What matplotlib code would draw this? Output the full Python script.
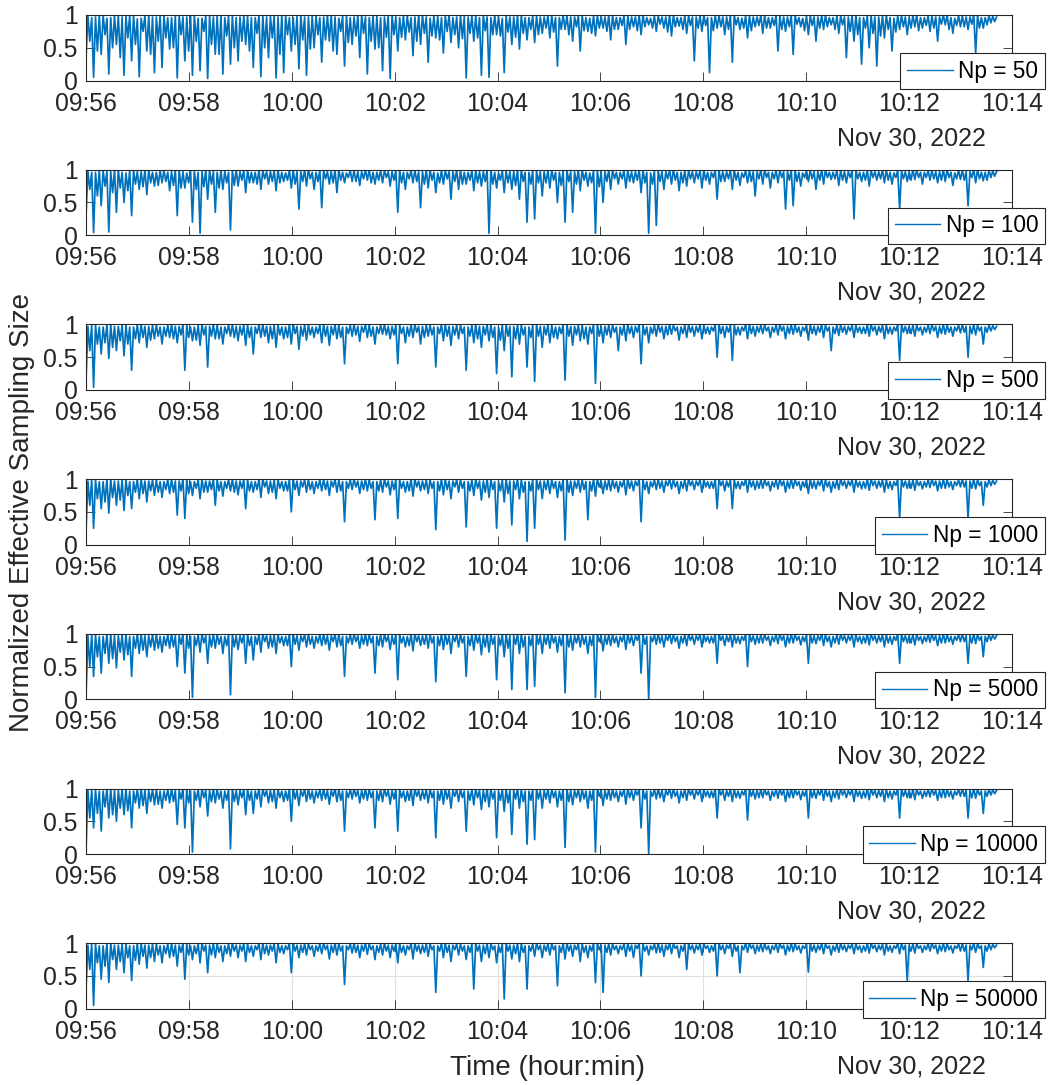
import numpy as np
import pandas as pd
import matplotlib
matplotlib.use("Agg")
import matplotlib.pyplot as plt
import matplotlib.dates as mdates

plt.rcParams["font.family"] = ["Liberation Sans", "DejaVu Sans"]

# --- Data (normalized ESS in percent) ------------------------------------
NP_VALUES = [50, 100, 500, 1000, 5000, 10000, 50000]
T_START = "2022-11-30 09:56:00"
T_END = "2022-11-30 10:13:42"

ess_np50 = [
    35, 99, 60, 96, 5, 97, 45, 100, 40, 100, 70, 95, 10, 96, 50, 99, 55, 99, 35, 97, 8, 98, 65, 100, 30, 100, 55, 94, 6, 95, 75, 99, 45, 99, 40, 97, 12, 97, 60, 100,
    20, 100, 65, 96, 48, 96, 50, 99, 4, 99, 70, 97, 30, 97, 45, 100, 8, 100, 60, 95, 15, 95, 75, 99, 3, 98, 55, 97, 40, 99, 40, 100, 10, 96, 68, 98, 25, 100, 50, 96,
    30, 97, 60, 99, 55, 99, 45, 96, 20, 96, 72, 100, 6, 100, 50, 97, 35, 98, 65, 99, 4, 97, 40, 100, 12, 99, 70, 96, 45, 96, 55, 98, 18, 100, 62, 97, 8, 97, 48, 99,
    50, 99, 70, 96, 28, 97, 62, 100, 60, 100, 45, 97, 40, 95, 75, 99, 22, 99, 58, 96, 55, 97, 68, 100, 35, 100, 72, 97, 10, 96, 60, 99, 48, 99, 50, 96, 15, 97, 66, 100,
    3, 100, 70, 97, 45, 96, 66, 99, 62, 99, 74, 96, 38, 97, 60, 100, 55, 100, 72, 97, 28, 95, 68, 99, 65, 98, 62, 96, 42, 99, 75, 100, 58, 96, 70, 97, 50, 100, 64, 98,
    4, 97, 72, 99, 60, 99, 65, 96, 8, 100, 76, 97, 5, 96, 70, 100, 70, 98, 68, 95, 12, 99, 74, 97, 55, 97, 66, 100, 48, 100, 72, 96, 62, 96, 78, 99, 58, 99, 70, 97,
    72, 97, 80, 99, 65, 100, 74, 96, 22, 96, 78, 100, 78, 99, 70, 97, 60, 97, 82, 99, 45, 100, 76, 96, 75, 95, 72, 99, 68, 99, 80, 97, 80, 97, 75, 100, 62, 100, 78, 96,
    78, 96, 84, 99, 55, 99, 78, 97, 82, 97, 76, 100, 70, 100, 82, 96, 85, 95, 80, 99, 75, 99, 86, 97, 80, 97, 74, 100, 68, 100, 82, 96, 83, 96, 78, 99, 72, 99, 84, 97,
    30, 97, 80, 99, 75, 100, 84, 96, 12, 96, 76, 99, 80, 99, 82, 97, 70, 97, 78, 100, 28, 100, 85, 96, 78, 95, 80, 99, 65, 99, 76, 97, 82, 97, 84, 100, 72, 100, 80, 96,
    80, 96, 84, 99, 45, 99, 78, 97, 75, 97, 82, 100, 40, 100, 86, 96, 82, 95, 76, 99, 70, 99, 84, 97, 60, 97, 80, 100, 78, 100, 82, 96, 85, 96, 78, 99, 72, 99, 85, 97,
    35, 97, 75, 99, 60, 100, 70, 96, 25, 96, 80, 99, 50, 99, 72, 97, 22, 97, 68, 100, 65, 100, 78, 96, 45, 95, 74, 99, 78, 99, 82, 97, 70, 97, 80, 100, 82, 100, 76, 96,
    80, 96, 84, 99, 75, 99, 80, 97, 60, 97, 86, 100, 85, 100, 78, 96, 72, 95, 84, 99, 82, 99, 82, 97, 78, 97, 86, 100, 42, 100, 80, 96, 80, 96, 85, 99, 88, 98, 90, 97,
]
ess_np100 = [
    30, 98, 70, 96, 4, 96, 60, 99, 45, 99, 75, 97, 5, 97, 65, 100, 35, 100, 72, 96, 50, 95, 68, 99, 30, 99, 78, 97, 70, 97, 74, 100, 62, 100, 80, 96, 75, 96, 76, 99,
    80, 99, 82, 96, 68, 97, 76, 100, 30, 100, 72, 97, 72, 95, 80, 99, 20, 99, 70, 96, 3, 97, 74, 100, 55, 100, 78, 97, 35, 96, 72, 99, 70, 98, 80, 96, 8, 99, 76, 100,
    75, 97, 84, 99, 65, 100, 80, 96, 80, 96, 78, 100, 70, 99, 86, 97, 78, 97, 82, 99, 68, 100, 80, 96, 82, 95, 84, 99, 72, 99, 78, 97, 40, 97, 82, 100, 75, 100, 86, 96,
    70, 96, 82, 99, 42, 99, 86, 97, 78, 97, 80, 100, 65, 100, 84, 96, 80, 95, 88, 99, 82, 99, 82, 97, 76, 97, 86, 100, 84, 100, 80, 96, 78, 96, 84, 99, 80, 99, 88, 97,
    75, 97, 84, 99, 35, 100, 80, 96, 70, 96, 86, 99, 80, 99, 82, 97, 42, 97, 78, 100, 72, 100, 84, 96, 65, 95, 80, 99, 78, 99, 86, 97, 55, 97, 82, 100, 70, 100, 78, 96,
    78, 96, 84, 99, 68, 99, 80, 97, 75, 97, 82, 100, 3, 100, 78, 96, 72, 95, 84, 99, 65, 99, 80, 97, 70, 97, 76, 100, 55, 100, 82, 96, 20, 96, 78, 99, 25, 99, 80, 97,
    60, 97, 80, 99, 72, 100, 84, 96, 50, 96, 76, 99, 20, 99, 82, 97, 35, 97, 78, 100, 68, 100, 84, 96, 75, 95, 80, 99, 3, 99, 74, 97, 50, 97, 82, 100, 70, 100, 86, 96,
    78, 96, 86, 99, 72, 99, 82, 97, 80, 97, 84, 100, 65, 100, 80, 96, 3, 95, 78, 99, 15, 99, 82, 97, 70, 97, 86, 100, 78, 100, 84, 96, 68, 96, 80, 99, 75, 99, 86, 97,
    80, 97, 86, 99, 72, 100, 84, 96, 78, 96, 88, 99, 55, 99, 82, 97, 82, 97, 86, 100, 70, 100, 84, 96, 76, 95, 88, 99, 80, 99, 82, 97, 60, 97, 86, 100, 78, 100, 88, 96,
    72, 96, 86, 99, 80, 99, 88, 97, 40, 97, 84, 100, 45, 100, 82, 96, 75, 95, 88, 99, 82, 99, 86, 97, 70, 97, 84, 100, 78, 100, 88, 96, 85, 96, 86, 99, 76, 99, 84, 97,
    80, 97, 88, 99, 25, 100, 86, 96, 82, 96, 84, 99, 75, 99, 88, 97, 84, 97, 86, 100, 80, 100, 84, 96, 78, 95, 88, 99, 40, 99, 86, 97, 82, 97, 84, 100, 85, 100, 88, 96,
    78, 96, 88, 99, 84, 99, 86, 97, 80, 97, 84, 100, 82, 100, 88, 96, 76, 95, 86, 99, 85, 99, 84, 97, 45, 97, 88, 100, 80, 100, 86, 96, 83, 96, 84, 99, 88, 98, 90, 97,
]
ess_np500 = [
    15, 97, 60, 99, 4, 99, 70, 96, 55, 96, 72, 100, 48, 100, 65, 97, 60, 97, 75, 99, 52, 99, 70, 96, 30, 96, 78, 100, 72, 100, 80, 97, 65, 97, 76, 99, 78, 99, 82, 96,
    70, 96, 82, 99, 80, 100, 78, 97, 72, 97, 84, 100, 30, 99, 80, 96, 75, 96, 76, 99, 68, 100, 84, 97, 35, 97, 82, 100, 78, 99, 78, 96, 70, 96, 86, 99, 82, 100, 80, 97,
    75, 97, 84, 99, 68, 99, 80, 96, 55, 96, 86, 100, 80, 100, 82, 97, 72, 97, 78, 99, 65, 99, 84, 96, 78, 96, 80, 100, 70, 100, 86, 97, 62, 97, 82, 99, 76, 99, 84, 96,
    80, 96, 86, 99, 72, 100, 82, 97, 68, 97, 84, 100, 78, 99, 80, 96, 40, 96, 86, 99, 82, 100, 84, 97, 74, 97, 88, 100, 80, 99, 82, 96, 70, 96, 86, 99, 85, 100, 84, 97,
    78, 97, 84, 99, 40, 99, 86, 96, 72, 96, 82, 100, 80, 100, 88, 97, 70, 97, 80, 99, 82, 99, 84, 96, 35, 96, 86, 100, 75, 100, 82, 97, 68, 97, 84, 99, 78, 99, 86, 96,
    30, 96, 82, 99, 72, 100, 78, 97, 65, 97, 84, 100, 75, 99, 80, 96, 25, 96, 76, 99, 60, 100, 82, 97, 20, 97, 78, 100, 70, 99, 84, 96, 35, 96, 80, 99, 13, 100, 82, 97,
    65, 97, 84, 99, 72, 99, 80, 96, 78, 96, 86, 100, 15, 100, 82, 97, 68, 97, 84, 99, 75, 99, 78, 96, 70, 96, 86, 100, 10, 100, 82, 97, 72, 97, 84, 99, 80, 99, 88, 96,
    60, 96, 84, 99, 75, 100, 86, 97, 80, 97, 88, 100, 40, 99, 84, 96, 72, 96, 86, 99, 82, 100, 88, 97, 78, 97, 84, 100, 85, 99, 90, 96, 76, 96, 86, 99, 80, 100, 88, 97,
    82, 97, 88, 99, 78, 99, 86, 96, 85, 96, 90, 100, 50, 100, 86, 97, 80, 97, 88, 99, 45, 99, 84, 96, 84, 96, 90, 100, 78, 100, 86, 97, 82, 97, 88, 99, 86, 99, 90, 96,
    80, 96, 88, 99, 84, 100, 90, 97, 78, 97, 86, 100, 85, 99, 88, 96, 82, 96, 90, 99, 76, 100, 86, 97, 84, 97, 88, 100, 80, 99, 90, 96, 60, 96, 86, 99, 83, 100, 88, 97,
    85, 97, 90, 99, 80, 99, 88, 96, 86, 96, 86, 100, 82, 100, 90, 97, 84, 97, 88, 99, 78, 99, 86, 96, 85, 96, 90, 100, 45, 100, 88, 97, 86, 97, 86, 99, 82, 99, 90, 96,
    84, 96, 88, 99, 86, 100, 90, 97, 80, 97, 86, 100, 85, 99, 88, 96, 82, 96, 90, 99, 87, 100, 88, 97, 50, 97, 86, 100, 84, 99, 90, 96, 70, 96, 88, 99, 90, 98, 92, 97,
]
ess_np1000 = [
    20, 97, 60, 99, 25, 99, 70, 96, 55, 96, 65, 100, 48, 100, 72, 97, 60, 97, 68, 99, 52, 99, 75, 96, 55, 96, 80, 100, 70, 100, 78, 97, 65, 97, 82, 99, 75, 99, 80, 96,
    72, 96, 84, 99, 78, 100, 80, 97, 45, 97, 82, 100, 40, 99, 78, 96, 75, 96, 86, 99, 70, 100, 80, 97, 80, 97, 84, 100, 60, 99, 82, 96, 74, 96, 86, 99, 82, 100, 80, 97,
    76, 97, 86, 99, 55, 99, 82, 96, 80, 96, 84, 100, 72, 100, 88, 97, 78, 97, 80, 99, 70, 99, 86, 96, 82, 96, 82, 100, 50, 100, 84, 97, 75, 97, 88, 99, 80, 99, 84, 96,
    78, 96, 86, 99, 82, 100, 84, 97, 75, 97, 88, 100, 80, 99, 82, 96, 35, 96, 86, 99, 84, 100, 88, 97, 78, 97, 84, 100, 82, 99, 86, 96, 38, 96, 82, 99, 80, 100, 88, 97,
    76, 97, 84, 99, 40, 99, 86, 96, 80, 96, 82, 100, 74, 100, 88, 97, 82, 97, 84, 99, 78, 99, 86, 96, 23, 96, 82, 100, 76, 100, 84, 97, 70, 97, 88, 99, 80, 99, 86, 96,
    27, 96, 82, 99, 75, 100, 86, 97, 68, 97, 80, 100, 72, 99, 84, 96, 25, 96, 82, 99, 65, 100, 78, 97, 30, 97, 84, 100, 70, 99, 80, 96, 5, 96, 82, 99, 25, 100, 84, 97,
    70, 97, 84, 99, 78, 99, 86, 96, 72, 96, 82, 100, 7, 100, 80, 97, 75, 97, 86, 99, 80, 99, 84, 96, 38, 96, 82, 100, 74, 100, 88, 97, 78, 97, 84, 99, 82, 99, 86, 96,
    80, 96, 88, 99, 76, 100, 86, 97, 82, 97, 90, 100, 35, 99, 84, 96, 78, 96, 88, 99, 84, 100, 86, 97, 80, 97, 90, 100, 85, 99, 88, 96, 78, 96, 86, 99, 82, 100, 90, 97,
    84, 97, 90, 99, 80, 99, 88, 96, 86, 96, 86, 100, 55, 100, 90, 97, 82, 97, 88, 99, 55, 99, 86, 96, 85, 96, 90, 100, 80, 100, 88, 97, 84, 97, 86, 99, 86, 99, 90, 96,
    82, 96, 88, 99, 85, 100, 90, 97, 80, 97, 86, 100, 86, 99, 90, 96, 83, 96, 88, 99, 78, 100, 86, 97, 85, 97, 90, 100, 82, 99, 88, 96, 80, 96, 86, 99, 84, 100, 90, 97,
    86, 97, 90, 99, 80, 99, 88, 96, 85, 96, 86, 100, 83, 100, 90, 97, 86, 97, 88, 99, 80, 99, 86, 96, 84, 96, 90, 100, 40, 100, 88, 97, 86, 97, 86, 99, 83, 99, 90, 96,
    85, 96, 88, 99, 87, 100, 90, 97, 82, 97, 86, 100, 86, 99, 88, 96, 84, 96, 90, 99, 88, 100, 88, 97, 40, 97, 86, 100, 85, 99, 90, 96, 60, 96, 88, 99, 90, 98, 92, 97,
]
ess_np5000 = [
    5, 97, 50, 99, 35, 99, 65, 96, 40, 96, 70, 100, 55, 100, 62, 97, 48, 97, 72, 99, 60, 99, 68, 96, 35, 96, 78, 100, 70, 100, 75, 97, 65, 97, 80, 99, 75, 99, 78, 96,
    72, 96, 82, 99, 78, 100, 80, 97, 50, 97, 84, 100, 40, 99, 78, 96, 3, 96, 82, 99, 72, 100, 86, 97, 55, 97, 80, 100, 78, 99, 84, 96, 70, 96, 82, 99, 7, 100, 80, 97,
    76, 97, 86, 99, 55, 99, 82, 96, 60, 96, 84, 100, 72, 100, 88, 97, 78, 97, 80, 99, 70, 99, 86, 96, 82, 96, 82, 100, 50, 100, 84, 97, 75, 97, 88, 99, 80, 99, 84, 96,
    78, 96, 86, 99, 82, 100, 84, 97, 75, 97, 88, 100, 80, 99, 82, 96, 35, 96, 86, 99, 84, 100, 88, 97, 78, 97, 84, 100, 82, 99, 86, 96, 40, 96, 82, 99, 80, 100, 88, 97,
    76, 97, 84, 99, 30, 99, 86, 96, 80, 96, 82, 100, 74, 100, 88, 97, 82, 97, 84, 99, 78, 99, 86, 96, 27, 96, 82, 100, 76, 100, 84, 97, 70, 97, 88, 99, 80, 99, 86, 96,
    35, 96, 82, 99, 75, 100, 86, 97, 68, 97, 80, 100, 72, 99, 84, 96, 30, 96, 82, 99, 65, 100, 78, 97, 15, 97, 84, 100, 70, 99, 80, 96, 15, 96, 82, 99, 20, 100, 84, 97,
    70, 97, 84, 99, 78, 99, 86, 96, 72, 96, 82, 100, 10, 100, 80, 97, 75, 97, 86, 99, 80, 99, 84, 96, 70, 96, 82, 100, 3, 100, 88, 97, 74, 97, 84, 99, 82, 99, 86, 96,
    80, 96, 88, 99, 76, 100, 86, 97, 82, 97, 90, 100, 40, 99, 84, 96, 0, 96, 88, 99, 84, 100, 86, 97, 80, 97, 90, 100, 85, 99, 88, 96, 78, 96, 86, 99, 82, 100, 90, 97,
    84, 97, 90, 99, 80, 99, 88, 96, 86, 96, 86, 100, 55, 100, 90, 97, 82, 97, 88, 99, 80, 99, 86, 96, 85, 96, 90, 100, 50, 100, 88, 97, 84, 97, 86, 99, 86, 99, 90, 96,
    82, 96, 88, 99, 85, 100, 90, 97, 80, 97, 86, 100, 86, 99, 90, 96, 83, 96, 88, 99, 55, 100, 86, 97, 85, 97, 90, 100, 82, 99, 88, 96, 80, 96, 86, 99, 84, 100, 90, 97,
    86, 97, 90, 99, 80, 99, 88, 96, 85, 96, 86, 100, 83, 100, 90, 97, 86, 97, 88, 99, 80, 99, 86, 96, 84, 96, 90, 100, 55, 100, 88, 97, 86, 97, 86, 99, 83, 99, 90, 96,
    85, 96, 88, 99, 87, 100, 90, 97, 82, 97, 86, 100, 86, 99, 88, 96, 84, 96, 90, 99, 88, 100, 88, 97, 55, 97, 86, 100, 85, 99, 90, 96, 65, 96, 88, 99, 90, 98, 92, 97,
]
ess_np10000 = [
    5, 97, 55, 99, 40, 99, 62, 96, 35, 96, 72, 100, 55, 100, 60, 97, 50, 97, 70, 99, 60, 99, 66, 96, 40, 96, 78, 100, 70, 100, 74, 97, 62, 97, 80, 99, 75, 99, 76, 96,
    70, 96, 82, 99, 78, 100, 80, 97, 45, 97, 84, 100, 40, 99, 78, 96, 3, 96, 82, 99, 72, 100, 86, 97, 58, 97, 80, 100, 78, 99, 84, 96, 70, 96, 82, 99, 8, 100, 80, 97,
    75, 97, 86, 99, 60, 99, 82, 96, 62, 96, 84, 100, 72, 100, 88, 97, 78, 97, 80, 99, 70, 99, 86, 96, 80, 96, 82, 100, 50, 100, 84, 97, 74, 97, 88, 99, 80, 99, 84, 96,
    78, 96, 86, 99, 82, 100, 84, 97, 76, 97, 88, 100, 80, 99, 82, 96, 35, 96, 86, 99, 84, 100, 88, 97, 78, 97, 84, 100, 82, 99, 86, 96, 40, 96, 82, 99, 80, 100, 88, 97,
    76, 97, 84, 99, 35, 99, 86, 96, 80, 96, 82, 100, 74, 100, 88, 97, 82, 97, 84, 99, 78, 99, 86, 96, 25, 96, 82, 100, 76, 100, 84, 97, 70, 97, 88, 99, 80, 99, 86, 96,
    35, 96, 82, 99, 75, 100, 86, 97, 68, 97, 80, 100, 72, 99, 84, 96, 25, 96, 82, 99, 65, 100, 78, 97, 30, 97, 84, 100, 70, 99, 80, 96, 15, 96, 82, 99, 22, 100, 84, 97,
    70, 97, 84, 99, 78, 99, 86, 96, 72, 96, 82, 100, 10, 100, 80, 97, 75, 97, 86, 99, 80, 99, 84, 96, 70, 96, 82, 100, 3, 100, 88, 97, 74, 97, 84, 99, 82, 99, 86, 96,
    80, 96, 88, 99, 76, 100, 86, 97, 82, 97, 90, 100, 40, 99, 84, 96, 0, 96, 88, 99, 84, 100, 86, 97, 80, 97, 90, 100, 85, 99, 88, 96, 78, 96, 86, 99, 82, 100, 90, 97,
    84, 97, 90, 99, 80, 99, 88, 96, 86, 96, 86, 100, 55, 100, 90, 97, 82, 97, 88, 99, 80, 99, 86, 96, 85, 96, 90, 100, 52, 100, 88, 97, 84, 97, 86, 99, 86, 99, 90, 96,
    82, 96, 88, 99, 85, 100, 90, 97, 80, 97, 86, 100, 86, 99, 90, 96, 83, 96, 88, 99, 55, 100, 86, 97, 85, 97, 90, 100, 82, 99, 88, 96, 80, 96, 86, 99, 84, 100, 90, 97,
    86, 97, 90, 99, 80, 99, 88, 96, 85, 96, 86, 100, 83, 100, 90, 97, 86, 97, 88, 99, 80, 99, 86, 96, 84, 96, 90, 100, 55, 100, 88, 97, 86, 97, 86, 99, 83, 99, 90, 96,
    85, 96, 88, 99, 87, 100, 90, 97, 82, 97, 86, 100, 86, 99, 88, 96, 84, 96, 90, 99, 88, 100, 88, 97, 55, 97, 86, 100, 85, 99, 90, 96, 62, 96, 88, 99, 90, 98, 92, 97,
]
ess_np50000 = [
    30, 97, 60, 99, 5, 99, 70, 96, 45, 96, 65, 100, 40, 100, 75, 97, 60, 97, 72, 99, 55, 99, 78, 96, 43, 96, 74, 100, 68, 100, 80, 97, 62, 97, 78, 99, 72, 99, 82, 96,
    70, 96, 84, 99, 78, 100, 80, 97, 65, 97, 86, 100, 45, 99, 82, 96, 75, 96, 84, 99, 70, 100, 88, 97, 55, 97, 82, 100, 78, 99, 86, 96, 72, 96, 84, 99, 80, 100, 88, 97,
    78, 97, 88, 99, 72, 99, 86, 96, 80, 96, 90, 100, 75, 100, 84, 97, 82, 97, 88, 99, 70, 99, 86, 96, 84, 96, 90, 100, 55, 100, 88, 97, 78, 97, 86, 99, 82, 99, 90, 96,
    80, 96, 88, 99, 84, 100, 90, 97, 76, 97, 86, 100, 82, 99, 88, 96, 37, 96, 90, 99, 85, 100, 86, 97, 78, 97, 88, 100, 83, 99, 90, 96, 75, 96, 86, 99, 82, 100, 88, 97,
    78, 97, 88, 99, 70, 99, 86, 96, 82, 96, 90, 100, 76, 100, 88, 97, 84, 97, 86, 99, 80, 99, 90, 96, 25, 96, 88, 100, 78, 100, 86, 97, 72, 97, 90, 99, 82, 99, 88, 96,
    75, 96, 86, 99, 30, 100, 88, 97, 72, 97, 84, 100, 78, 99, 90, 96, 70, 96, 86, 99, 15, 100, 88, 97, 76, 97, 84, 100, 72, 99, 86, 96, 30, 96, 88, 99, 80, 100, 90, 97,
    78, 97, 88, 99, 82, 99, 90, 96, 35, 96, 86, 100, 76, 100, 88, 97, 80, 97, 90, 99, 72, 99, 86, 96, 78, 96, 88, 100, 40, 100, 90, 97, 25, 97, 86, 99, 82, 99, 90, 96,
    84, 96, 90, 99, 80, 100, 88, 97, 78, 97, 92, 100, 50, 99, 88, 96, 82, 96, 90, 99, 85, 100, 86, 97, 80, 97, 90, 100, 84, 99, 92, 96, 78, 96, 88, 99, 60, 100, 90, 97,
    85, 97, 90, 99, 82, 99, 92, 96, 86, 96, 88, 100, 50, 100, 90, 97, 84, 97, 92, 99, 80, 99, 88, 96, 55, 96, 90, 100, 86, 100, 92, 97, 84, 97, 88, 99, 87, 99, 90, 96,
    84, 96, 90, 99, 86, 100, 92, 97, 82, 97, 88, 100, 87, 99, 90, 96, 85, 96, 92, 99, 56, 100, 88, 97, 86, 97, 90, 100, 84, 99, 92, 96, 82, 96, 88, 99, 86, 100, 90, 97,
    87, 97, 92, 99, 84, 99, 90, 96, 86, 96, 88, 100, 85, 100, 92, 97, 87, 97, 90, 99, 82, 99, 88, 96, 86, 96, 92, 100, 84, 100, 90, 97, 43, 97, 88, 99, 85, 99, 92, 96,
    86, 96, 90, 99, 88, 100, 92, 97, 84, 97, 88, 100, 87, 99, 90, 96, 85, 96, 92, 99, 88, 100, 88, 97, 43, 97, 90, 100, 86, 99, 92, 96, 63, 96, 88, 99, 90, 98, 93, 97,
]
SERIES = [ess_np50, ess_np100, ess_np500, ess_np1000,
          ess_np5000, ess_np10000, ess_np50000]

# --- Figure ---------------------------------------------------------------
W, H = 1050, 1085
fig = plt.figure(figsize=(W / 100, H / 100), dpi=100)

AX_COLOR = "#262626"
LINE_COLOR = "#0072BD"
left_px, right_px = 86, 1012
top0, step, h_px = 15, 154.7, 65.5

x0 = pd.Timestamp("2022-11-30 09:56:00")
x1 = pd.Timestamp("2022-11-30 10:14:00")

for i, (npart, vals) in enumerate(zip(NP_VALUES, SERIES)):
    top = top0 + step * i
    ax = fig.add_axes([left_px / W, 1 - (top + h_px) / H,
                       (right_px - left_px) / W, h_px / H])
    t = pd.date_range(T_START, T_END, periods=len(vals))
    ax.plot(t, np.array(vals) / 100.0, color=LINE_COLOR, lw=1.25,
            label=f"Np = {npart}")
    ax.set_xlim(x0, x1)
    ax.set_ylim(0, 1)
    ax.set_yticks([0, 0.5, 1])
    ax.set_yticklabels(["0", "0.5", "1"])
    ax.xaxis.set_major_locator(mdates.MinuteLocator(byminute=range(0, 60, 2)))
    ax.xaxis.set_major_formatter(mdates.DateFormatter("%H:%M"))
    ax.tick_params(direction="in", length=6.5, width=0.6, top=True, right=True,
                   colors=AX_COLOR, labelsize=17.8)
    ax.tick_params(axis="x", pad=8)
    ax.tick_params(axis="y", pad=6)
    for s in ax.spines.values():
        s.set_color(AX_COLOR)
        s.set_linewidth(0.8)
    if i == len(SERIES) - 1:
        ax.grid(True, color="#dfdfdf", lw=0.8)
        ax.set_axisbelow(True)
    ax.text(0.891, -0.88, "Nov 30, 2022", transform=ax.transAxes,
            ha="center", va="center", fontsize=18, color=AX_COLOR)
    leg = ax.legend(loc="lower right", bbox_to_anchor=(1.0356, -0.137),
                    borderaxespad=0, fontsize=16.3, frameon=True, fancybox=False,
                    handlelength=2.0, handletextpad=0.25, borderpad=0.3)
    leg.get_frame().set_edgecolor(AX_COLOR)
    leg.get_frame().set_linewidth(0.8)
    leg.get_frame().set_alpha(1)
    for ln in leg.get_lines():
        ln.set_linewidth(1.0)

fig.text(22 / W, 1 - 512 / H, "Normalized Effective Sampling Size",
         rotation=90, ha="center", va="center", fontsize=20, color=AX_COLOR)
fig.text(548 / W, 1 - 1068 / H, "Time (hour:min)",
         ha="center", va="center", fontsize=20, color=AX_COLOR)

fig.savefig("out.png", dpi=100)
